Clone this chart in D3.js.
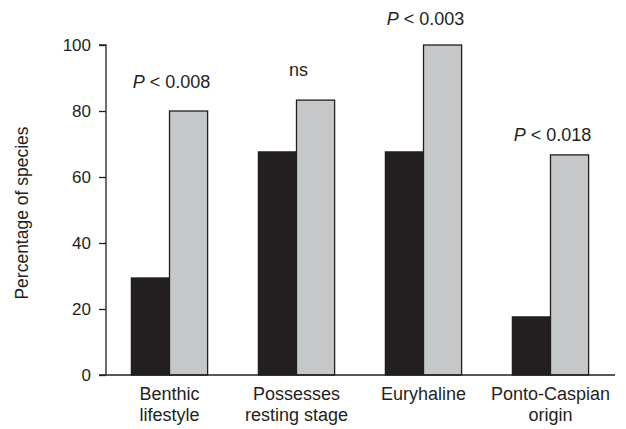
<!DOCTYPE html>
<html>
<head>
<meta charset="utf-8">
<script src="https://cdn.jsdelivr.net/npm/d3@7/dist/d3.min.js"></script>
<style>
  html, body { margin: 0; padding: 0; background: #fff; }
  svg text { font-family: "Liberation Sans", Arial, Helvetica, sans-serif; fill: #231f20; }
</style>
</head>
<body>
<svg id="chart" width="626" height="429"></svg>
<script>
// Trait categories (two-line labels)
const categories = [
  ["Benthic", "lifestyle"],
  ["Possesses", "resting stage"],
  ["Euryhaline"],
  ["Ponto-Caspian", "origin"]
];
// Percentage of species per category for the two groups
const seriesDark = [29.4, 67.6, 67.6, 17.6];
const seriesLight = [80, 83.3, 100, 66.7];
// Significance annotations and the level (in %) at which each sits
const pLabels = ["0.008", null, "0.003", "0.018"];
const pLevels = [87, 90.5, 106, 71];
const yTicks = [0, 20, 40, 60, 80, 100];

const svg = d3.select("#chart");
const x0 = 106, x1 = 614, yBase = 375, yTop = 45;
const ink = "#231f20";

const catKeys = categories.map(c => c.join(" "));
const x = d3.scaleBand().domain(catKeys).range([x0, x1])
  .paddingInner(0.4).paddingOuter(0.2);
const xs = d3.scaleBand().domain(["dark", "light"]).range([0, x.bandwidth()]);
const y = d3.scaleLinear().domain([0, 100]).range([yBase, yTop]);

const rows = catKeys.map((k, i) => ({ key: k, dark: seriesDark[i], light: seriesLight[i] }));

// Bars
const g = svg.append("g");
const groups = g.selectAll("g.cat").data(rows).join("g")
  .attr("class", "cat")
  .attr("transform", d => `translate(${x(d.key)},0)`);
groups.selectAll("rect").data(d => [
    { s: "dark", v: d.dark },
    { s: "light", v: d.light }
  ]).join("rect")
  .attr("x", d => xs(d.s))
  .attr("y", d => y(d.v))
  .attr("width", xs.bandwidth())
  .attr("height", d => y(0) - y(d.v))
  .attr("fill", d => d.s === "dark" ? "#231f20" : "#c6c7c9")
  .attr("stroke", ink)
  .attr("stroke-width", 1.3);

// Y axis
const yAxis = d3.axisLeft(y).tickValues(yTicks).tickSize(7).tickPadding(8);
const ya = svg.append("g").attr("transform", `translate(${x0},0)`).call(yAxis);
ya.select(".domain").attr("stroke", ink).attr("stroke-width", 1.3)
  .attr("d", `M-7,${yTop}H0V${yBase}`);
ya.selectAll(".tick line").attr("stroke", ink).attr("stroke-width", 1.3);
ya.selectAll(".tick text").attr("font-size", 17)
  .style("font-family", "'Liberation Sans', Arial, sans-serif").attr("fill", ink);

// X axis baseline
svg.append("line")
  .attr("x1", x0 - 7).attr("x2", x1 + 1)
  .attr("y1", yBase).attr("y2", yBase)
  .attr("stroke", ink).attr("stroke-width", 1.3);

// Category labels
const lab = svg.append("g").selectAll("text").data(categories).join("text")
  .attr("text-anchor", "middle")
  .attr("font-size", 18)
  .attr("x", (d, i) => x(catKeys[i]) + x.bandwidth() / 2)
  .attr("y", 400);
lab.selectAll("tspan").data(d => d).join("tspan")
  .attr("x", function () { return d3.select(this.parentNode).attr("x"); })
  .attr("dy", (d, i) => i === 0 ? 0 : 21)
  .text(d => d);

// Significance annotations
const ann = svg.append("g").selectAll("text").data(rows).join("text")
  .attr("text-anchor", "middle")
  .attr("font-size", 18)
  .attr("x", d => x(d.key) + x.bandwidth() / 2 + 2)
  .attr("y", (d, i) => y(pLevels[i]));
ann.each(function (d, i) {
  const t = d3.select(this);
  if (pLabels[i] === null) {
    t.text("ns");
  } else {
    t.append("tspan").attr("font-style", "italic").text("P");
    t.append("tspan").text(" < " + pLabels[i]);
  }
});

// Y axis title
svg.append("text")
  .attr("transform", `translate(28,213) rotate(-90)`)
  .attr("text-anchor", "middle")
  .attr("font-size", 17.5)
  .text("Percentage of species");
</script>
</body>
</html>
